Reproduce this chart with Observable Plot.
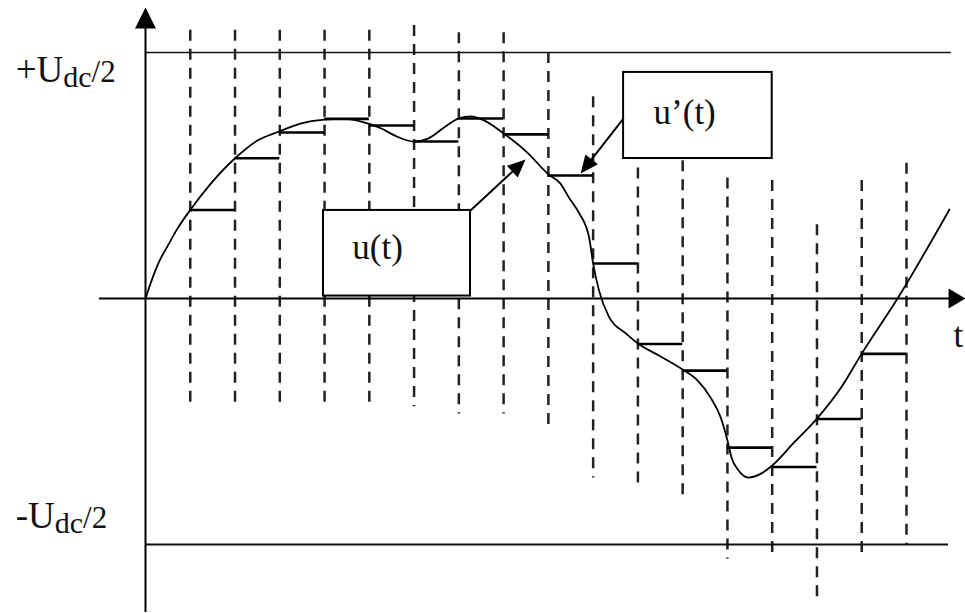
<!DOCTYPE html>
<html>
<head>
<meta charset="utf-8">
<script src="https://cdn.jsdelivr.net/npm/d3@7"></script>
<script src="https://cdn.jsdelivr.net/npm/@observablehq/plot@0.6"></script>
<style>
  html, body { margin: 0; padding: 0; background: #fff; }
  svg { display: block; }
</style>
</head>
<body>
<script>
// ---- data (t in sample periods, u in units of Udc/2) ----
const sampleT    = [1, 2, 3, 4, 5, 6, 7, 8, 9, 10, 11, 12, 13, 14, 15, 16, 17];
const dashTop    = [1.09, 1.09, 1.09, 1.09, 1.09, 1.11, 1.08, 1.08, 1.0, 0.82, 0.53, 0.56, 0.49, 0.48, 0.30, 0.48, 0.55];
const dashBottom = [-0.45, -0.45, -0.45, -0.45, -0.45, -0.44, -0.47, -0.47, -0.54, -0.73, -0.77, -0.82, -1.06, -1.06, -1.24, -1.06, -1.0];
// held (sampled) value u'(t) from sample k to k+1
const heldValue  = [0.36, 0.57, 0.675, 0.73, 0.703, 0.638, 0.732, 0.667, 0.5, 0.142, -0.185, -0.293, -0.606, -0.685, -0.49, -0.225];
// continuous signal u(t)
const curveT = [0, 0.15, 0.3, 0.5, 0.71, 1, 1.45, 2, 2.5, 3, 3.46, 4, 4.4, 4.8, 5.27, 5.56, 6, 6.31, 6.67, 7, 7.27, 7.56, 8, 8.53, 9, 9.27, 9.46, 9.69, 9.91, 10, 10.13, 10.36, 10.73, 11, 11.47, 12, 12.33, 12.62, 12.85, 13, 13.09, 13.25, 13.47, 13.76, 14, 14.49, 15, 15.54, 16, 16.8, 17.96];
const curveU = [0, 0.08, 0.148, 0.215, 0.283, 0.36, 0.465, 0.57, 0.642, 0.68, 0.711, 0.727, 0.73, 0.72, 0.691, 0.663, 0.638, 0.65, 0.695, 0.732, 0.74, 0.724, 0.671, 0.593, 0.505, 0.467, 0.41, 0.346, 0.248, 0.142, 0.033, -0.077, -0.142, -0.183, -0.232, -0.289, -0.333, -0.402, -0.484, -0.577, -0.646, -0.699, -0.728, -0.711, -0.679, -0.585, -0.488, -0.362, -0.224, 0, 0.362];
// level lines
const levelU = [1, -1];
const levelLabels = ["+Udc/2", "-Udc/2"];
const levelLabelT = [-2.9, -2.9];
const levelLabelU = [0.882, -0.931];
// annotation boxes
const boxLabels = ["u(t)", "u\u2019(t)"];
const boxT1 = [3.976, 10.68];
const boxT2 = [7.26, 14.0];
const boxU1 = [0.01, 0.569];
const boxU2 = [0.358, 0.919];
const boxTextT = [4.62, 11.35];
const boxTextU = [0.159, 0.711];
// pointer arrows: from box to curve / held value
const arrowT1 = [7.26, 10.68];
const arrowU1 = [0.358, 0.732];
const arrowT2 = [8.49, 9.72];
const arrowU2 = [0.565, 0.508];
// axes
const axisT = [-1.03, 18.32];   // x axis from .. to (arrow tip)
const axisU = [-1.276, 1.183];  // y axis from .. to (arrow tip)
const axisLabel = "t";

// ---- layout ----
const W = 965, H = 613, mL = 145, mR = 59, mT = 52, mB = 69;
const kx = (W - mL - mR) / 17, ky = (H - mT - mB) / 2;
const FONT = "Liberation Serif, Times New Roman, serif";

function headSymbol(ux, uy, L, Wd) {
  return {
    draw(ctx) {
      const bx = -L * ux, by = -L * uy;
      ctx.moveTo(0, 0);
      ctx.lineTo(bx - Wd * uy, by + Wd * ux);
      ctx.lineTo(bx + Wd * uy, by - Wd * ux);
      ctx.closePath();
    }
  };
}

const dashes = sampleT.map((t, i) => ({t, top: dashTop[i], bottom: dashBottom[i]}));
const held = heldValue.map((v, i) => ({t1: sampleT[i], t2: sampleT[i] + 1, v}));
const curve = curveT.map((t, i) => ({t, u: curveU[i]}));
const boxes = boxLabels.map((s, i) => ({s, x1: boxT1[i], x2: boxT2[i], y1: boxU1[i], y2: boxU2[i], tx: boxTextT[i], ty: boxTextU[i]}));
const levelText = levelLabels.map((s, i) => ({s, t: levelLabelT[i], u: levelLabelU[i]}));

const headL = 18, headW = 8;
const arrows = arrowT1.map((t1, i) => {
  const sx = kx * (arrowT2[i] - t1), sy = -ky * (arrowU2[i] - arrowU1[i]);
  const n = Math.hypot(sx, sy), ux = sx / n, uy = sy / n;
  return {
    x1: t1, y1: arrowU1[i], x2: arrowT2[i], y2: arrowU2[i],
    bx: arrowT2[i] - (headL - 3) * ux / kx, by: arrowU2[i] + (headL - 3) * uy / ky,
    sym: headSymbol(ux, uy, headL, headW)
  };
});

const marks = [
  // sampling instants (dashed)
  Plot.ruleX(dashes, {x: "t", y1: "top", y2: "bottom", stroke: "#222", strokeWidth: 2.5, strokeDasharray: "11,8"}),
  // +Udc/2 and -Udc/2 levels
  Plot.ruleY([levelU[0]], {x1: 0, x2: 18.0, stroke: "#111", strokeWidth: 1.6}),
  Plot.ruleY([levelU[1]], {x1: 0, x2: 17.94, stroke: "#111", strokeWidth: 2}),
  // axes
  Plot.ruleY([0], {x1: axisT[0], x2: axisT[1] - 0.2, stroke: "#000", strokeWidth: 2}),
  Plot.ruleX([0], {y1: axisU[0], y2: axisU[1] - 0.05, stroke: "#000", strokeWidth: 2}),
  Plot.dot([{x: axisT[1], y: 0}], {x: "x", y: "y", symbol: headSymbol(1, 0, 17, 10), fill: "#000", stroke: "none"}),
  Plot.dot([{x: 0, y: axisU[1]}], {x: "x", y: "y", symbol: headSymbol(0, -1, 21, 10.5), fill: "#000", stroke: "none"}),
  // held values u'(t)
  Plot.ruleY(held, {x1: "t1", x2: "t2", y: "v", stroke: "#000", strokeWidth: 2.6}),
  // signal u(t)
  Plot.line(curve, {x: "t", y: "u", curve: "monotone-x", stroke: "#000", strokeWidth: 1.8}),
  // annotation boxes
  Plot.rect(boxes, {x1: "x1", x2: "x2", y1: "y1", y2: "y2", fill: "#fff", stroke: "#000", strokeWidth: 2}),
  Plot.text(boxes, {x: "tx", y: "ty", text: "s", textAnchor: "start", lineAnchor: "bottom", fontFamily: FONT, fontSize: 35, fill: "#111"}),
  // pointer arrows
  Plot.link(arrows, {x1: "x1", y1: "y1", x2: "bx", y2: "by", stroke: "#000", strokeWidth: 2}),
  ...arrows.map(a => Plot.dot([a], {x: "x2", y: "y2", symbol: a.sym, fill: "#000", stroke: "none"})),
  // labels
  Plot.text(levelText, {x: "t", y: "u", text: "s", textAnchor: "start", lineAnchor: "bottom", fontFamily: FONT, fontSize: 37, fill: "#111"}),
  Plot.text([{x: 18.05, y: -0.199}], {x: "x", y: "y", text: () => axisLabel, textAnchor: "start", lineAnchor: "bottom", fontFamily: FONT, fontSize: 35, fill: "#111"})
];

const svg = Plot.plot({
  width: W, height: H,
  marginLeft: mL, marginRight: mR, marginTop: mT, marginBottom: mB,
  x: {domain: [0, 17], axis: null},
  y: {domain: [-1, 1], axis: null},
  style: {background: "#fff", overflow: "visible"},
  marks
});

// typeset subscripts in the level labels
d3.select(svg).selectAll("text").each(function () {
  const m = (this.textContent || "").match(/^([+-]U)(dc)(\/2)$/);
  if (!m) return;
  this.textContent = "";
  const sel = d3.select(this);
  sel.append("tspan").attr("font-size", 37).text(m[1]);
  sel.append("tspan").attr("font-size", 30).attr("dy", 5).text(m[2]);
  sel.append("tspan").attr("font-size", 31).attr("dy", -5).text(m[3]);
});

document.body.appendChild(svg);
</script>
</body>
</html>
